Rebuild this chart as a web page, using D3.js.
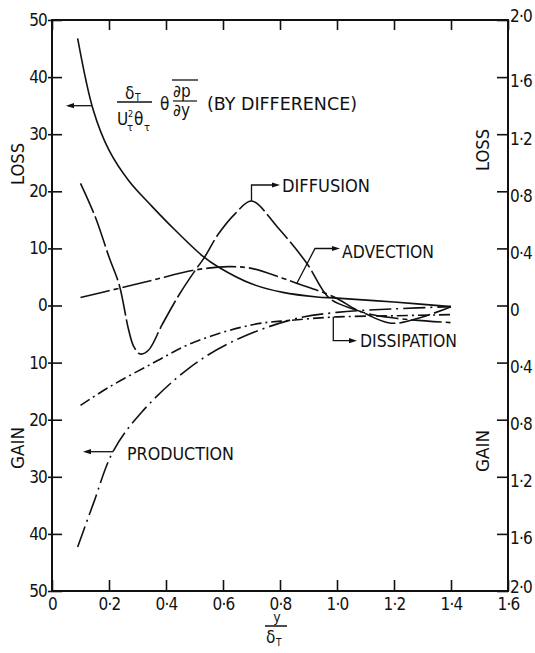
<!DOCTYPE html>
<html>
<head>
<meta charset="utf-8">
<script src="https://cdn.jsdelivr.net/npm/d3@7"></script>
<style>
  body { margin: 0; background: #fff; }
  svg text { font-family: 'DejaVu Sans Condensed', 'DejaVu Sans', sans-serif; fill: #111; }
</style>
</head>
<body>
<svg id="viz" width="535" height="653"></svg>
<script>
// Data: y/delta_T against the budget terms (left scale)
const pressureX    = [0.09, 0.145, 0.2, 0.27, 0.35, 0.41, 0.53, 0.585, 0.7, 0.81, 0.93, 1.0, 1.2, 1.4];
const pressureV    = [46.8, 34.2, 27.2, 21.8, 17.4, 14.3, 8.6, 6.7, 3.8, 2.3, 1.5, 1.3, 0.6, -0.2];

const diffusionX   = [0.1, 0.152, 0.2, 0.236, 0.269, 0.287, 0.31, 0.339, 0.386, 0.445, 0.503, 0.532,
                      0.585, 0.643, 0.7, 0.79, 0.894, 0.975, 1.08, 1.19, 1.3, 1.4];
const diffusionV   = [21.4, 15.5, 8.5, 3.6, -4.3, -7.2, -8.5, -7.8, -3.4, 1.8, 6.2, 8.2,
                      12.6, 16.1, 18.3, 13.8, 7.4, 1.2, -1.0, -3.1, -2.0, -0.2];

const advectionX   = [0.1, 0.234, 0.35, 0.5, 0.62, 0.7, 0.807, 0.858, 0.99, 1.08, 1.2, 1.4];
const advectionV   = [1.4, 3.0, 4.4, 6.2, 6.8, 6.5, 4.8, 3.9, 1.5, -1.0, -2.2, -3.0];

const dissipationX = [0.1, 0.2, 0.35, 0.5, 0.7, 0.836, 1.0, 1.2, 1.4];
const dissipationV = [-17.5, -14.3, -10.2, -6.4, -3.4, -2.6, -2.0, -1.8, -1.6];

const productionX  = [0.09, 0.145, 0.215, 0.316, 0.48, 0.63, 0.84, 1.0, 1.2, 1.4];
const productionV  = [-42.3, -34.7, -25.5, -18.6, -11.0, -6.4, -2.5, -1.2, -0.6, -0.2];

// Tick values
const xTicks      = [0, 0.2, 0.4, 0.6, 0.8, 1.0, 1.2, 1.4, 1.6];
const leftTicks   = [-50, -40, -30, -20, -10, 0, 10, 20, 30, 40, 50];
const rightTicks  = [-2, -1.6, -1.2, -0.8, -0.4, 0, 0.4, 0.8, 1.2, 1.6, 2];

const series = [
  { x: pressureX,    v: pressureV,    dash: null },
  { x: diffusionX,   v: diffusionV,   dash: '32,4' },
  { x: advectionX,   v: advectionV,   dash: '30,4,5,4' },
  { x: dissipationX, v: dissipationV, dash: '11,4,2,4' },
  { x: productionX,  v: productionV,  dash: '22,5,2,5' }
];

const svg = d3.select('#viz');
const box = { left: 52, right: 508, top: 20, bottom: 591 };

const x  = d3.scaleLinear().domain([0, 1.6]).range([box.left, box.right]);
const y  = d3.scaleLinear().domain([-50, 50]).range([box.bottom, box.top]);
const yR = d3.scaleLinear().domain([-2, 2]).range([box.bottom, box.top]);

const dotted = s => s.replace('.', '\u00b7');
const fmtX = d => d === 0 ? '0' : dotted(d.toFixed(1));
const fmtR = d => d === 0 ? '0' : dotted(Math.abs(d).toFixed(1));

// Axes (ticks point inward)
const axisStyle = g => {
  g.select('.domain').remove();
  g.selectAll('.tick line').attr('stroke', '#111').attr('stroke-width', 1.6);
  g.selectAll('.tick text').attr('font-size', 17).attr('letter-spacing', -0.8).attr('fill', '#111');
};

svg.append('g')
   .attr('transform', `translate(0,${box.bottom})`)
   .call(d3.axisBottom(x).tickValues(xTicks).tickFormat(fmtX).tickSizeInner(-11).tickSizeOuter(0).tickPadding(7))
   .call(axisStyle);

svg.append('g')
   .attr('transform', `translate(0,${box.top})`)
   .call(d3.axisTop(x).tickValues(xTicks).tickFormat('').tickSizeInner(-10).tickSizeOuter(0))
   .call(axisStyle);

const gl = svg.append('g')
   .attr('transform', `translate(${box.left},0)`)
   .call(d3.axisLeft(y).tickValues(leftTicks).tickFormat(d => Math.abs(d)).tickSizeInner(-10).tickSizeOuter(0).tickPadding(5))
   .call(axisStyle);
gl.selectAll('.tick line').attr('x1', -4);

// Right scale labels sit a little below their ticks, the two 2.0 end labels a little above
svg.append('g')
   .attr('transform', `translate(${box.right},0)`)
   .call(d3.axisRight(yR).tickValues(rightTicks).tickFormat(fmtR).tickSizeInner(-11).tickSizeOuter(0).tickPadding(2))
   .call(axisStyle)
   .selectAll('.tick text')
     .attr('dy', d => d === 2 ? '0.06em' : (d === -2 ? '0.08em' : '0.58em'));

// Frame
svg.append('rect')
   .attr('x', box.left).attr('y', box.top)
   .attr('width', box.right - box.left).attr('height', box.bottom - box.top)
   .attr('fill', 'none').attr('stroke', '#111').attr('stroke-width', 2);

// Curves
const line = d3.line()
  .x(d => x(d[0]))
  .y(d => y(d[1]))
  .curve(d3.curveCatmullRom.alpha(0.5));

svg.append('g').selectAll('path')
   .data(series)
   .join('path')
     .attr('d', s => line(s.x.map((xv, i) => [xv, s.v[i]])))
     .attr('fill', 'none')
     .attr('stroke', '#111')
     .attr('stroke-width', 1.6)
     .attr('stroke-dasharray', s => s.dash);

// Annotation leaders with arrowheads
const ann = svg.append('g').attr('stroke', '#111').attr('stroke-width', 1.3).attr('fill', 'none');
function arrowHead(px, py, dir) {
  const s = dir === 'left' ? 1 : -1;
  svg.append('path')
     .attr('d', `M${px},${py} L${px + 8 * s},${py - 2.6} L${px + 8 * s},${py + 2.6} Z`)
     .attr('fill', '#111');
}
ann.append('path').attr('d', 'M92,105.7 H68');
arrowHead(66, 105.7, 'left');
ann.append('path').attr('d', `M${x(0.7)},${y(18.3)} V185 H276`);
arrowHead(280, 185, 'right');
ann.append('path').attr('d', 'M296.5,284 L315,248.5 H336');
arrowHead(340, 248.5, 'right');
ann.append('path').attr('d', 'M333.3,316.7 V340.7 H353');
arrowHead(357, 340.7, 'right');
ann.append('path').attr('d', 'M113.3,451.7 H86');
arrowHead(83, 451.7, 'left');

// Labels
const label = (txt, px, py, len) => svg.append('text')
  .attr('x', px).attr('y', py).attr('font-size', 17)
  .attr('textLength', len).attr('lengthAdjust', 'spacingAndGlyphs').text(txt);

label('DIFFUSION', 282, 192, 88);
label('ADVECTION', 342, 257.5, 92);
label('DISSIPATION', 360, 347, 97);
label('PRODUCTION', 127, 459.5, 107);
label('(BY DIFFERENCE)', 207, 109.5, 150);

const vlabel = (txt, cx, cy) => svg.append('text')
  .attr('transform', `translate(${cx + 6.3},${cy}) rotate(-90)`)
  .attr('text-anchor', 'middle').attr('font-size', 17)
  .attr('textLength', 42).attr('lengthAdjust', 'spacingAndGlyphs').text(txt);
vlabel('LOSS', 18, 164);
vlabel('GAIN', 18, 448);
vlabel('LOSS', 483, 150);
vlabel('GAIN', 483, 451);

// Pressure term expression: delta_T / (U_tau^2 theta_tau) * overline(theta dp/dy)
const piece = (txt, px, py, size) => svg.append('text')
  .attr('x', px).attr('y', py).attr('font-size', size).text(txt);
piece('\u03b4', 125, 99, 17);
piece('T', 135, 101, 10);
svg.append('line').attr('x1', 117).attr('x2', 152).attr('y1', 102).attr('y2', 102)
   .attr('stroke', '#111').attr('stroke-width', 1.3);
piece('U', 117, 125, 17);
piece('\u03c4', 127, 131, 11);
piece('2', 128, 117, 9);
piece('\u03b8', 134, 125, 17);
piece('\u03c4', 144, 131, 11);
piece('\u03b8', 160, 110, 17);
piece('\u2202p', 173, 97, 17);
piece('\u2202y', 173, 116, 17);
svg.append('line').attr('x1', 173).attr('x2', 197).attr('y1', 101).attr('y2', 101)
   .attr('stroke', '#111').attr('stroke-width', 1.2);
svg.append('line').attr('x1', 172).attr('x2', 198).attr('y1', 80).attr('y2', 80)
   .attr('stroke', '#111').attr('stroke-width', 1.3);

// x-axis title: y / delta_T
svg.append('text').attr('x', 277).attr('y', 622).attr('text-anchor', 'middle').attr('font-size', 14).text('y');
svg.append('line').attr('x1', 265).attr('x2', 287).attr('y1', 626).attr('y2', 626)
   .attr('stroke', '#111').attr('stroke-width', 1.5);
piece('\u03b4', 266, 643, 17);
piece('T', 276, 646, 10);
</script>
</body>
</html>
